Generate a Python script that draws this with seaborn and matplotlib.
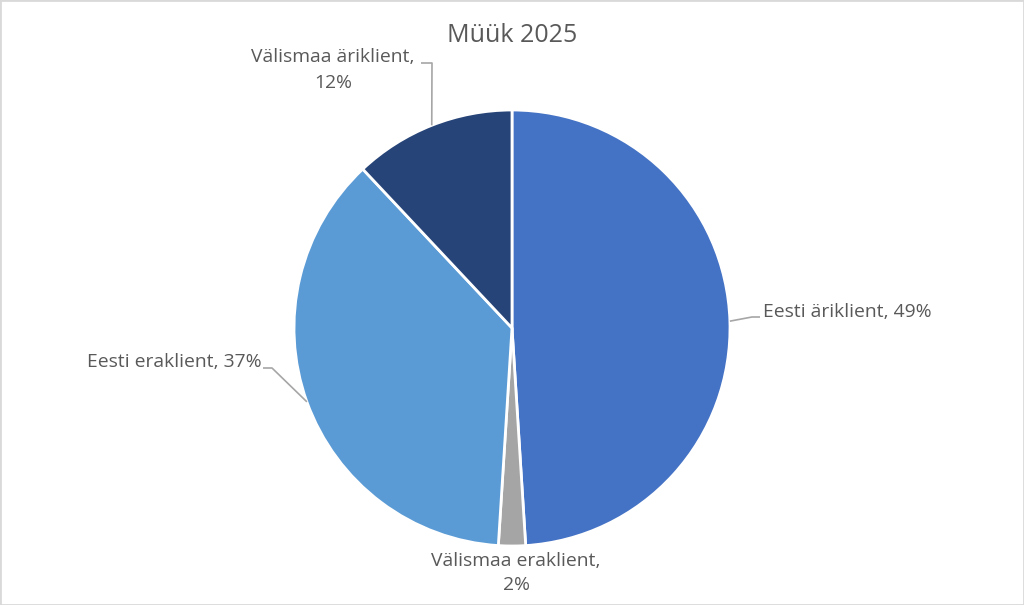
import numpy as np
import matplotlib.pyplot as plt
import seaborn as sns

title = "Müük 2025"
categories = ["Eesti äriklient", "Välismaa eraklient", "Eesti eraklient", "Välismaa äriklient"]
shares = [49, 2, 37, 12]
label_texts = ["Eesti äriklient, 49%", "Välismaa eraklient,\n2%",
               "Eesti eraklient, 37%", "Välismaa äriklient,\n12%"]
colors = ["#4472C4", "#A5A5A5", "#5B9BD5", "#264478"]

sns.set_theme(style="white")
plt.rcParams['font.family'] = ['Open Sans', 'DejaVu Sans']

W, H = 1024, 605
fig = plt.figure(figsize=(W / 100, H / 100), dpi=100)
ax = fig.add_axes([0, 0, 1, 1])
ax.axis('off')

cx, cy, r = 512, H - 328, 218
wedges, _ = ax.pie(shares, colors=colors, startangle=90, counterclock=False,
                   center=(cx, cy), radius=r,
                   wedgeprops=dict(edgecolor='white', linewidth=2))
ax.set_xlim(0, W)
ax.set_ylim(0, H)
ax.set_aspect('equal')

txt_color = "#595959"
line_color = "#A6A6A6"

# label layout: (text x, text y from top, ha, leader path points after the edge point, from top)
layout = [
    (763, 312, 'left', [(752, 317), (760, 317)]),
    (516, 573, 'center', None),
    (262, 362, 'right', [(272, 368), (263, 368)]),
    (333, 70, 'center', [(432, 63), (421, 63)]),
]

for w, txt, (tx, ty, ha, path) in zip(wedges, label_texts, layout):
    mid = np.deg2rad((w.theta1 + w.theta2) / 2)
    ex, ey = cx + r * np.cos(mid), cy + r * np.sin(mid)
    if path:
        xs = [ex] + [p[0] for p in path]
        ys = [ey] + [H - p[1] for p in path]
        ax.plot(xs, ys, color=line_color, lw=1.2, solid_capstyle='butt')
    ax.text(tx, H - ty, txt, ha=ha, va='center', fontsize=13.9, color=txt_color,
            linespacing=1.5)

ax.text(W / 2, H - 36, title, ha='center', va='center', fontsize=18, color=txt_color)

fig.patches.append(plt.Rectangle((0, 0), 1, 1, transform=fig.transFigure,
                                 fill=False, edgecolor='#D9D9D9', lw=2))

fig.savefig('out.png', dpi=100, facecolor='white')
